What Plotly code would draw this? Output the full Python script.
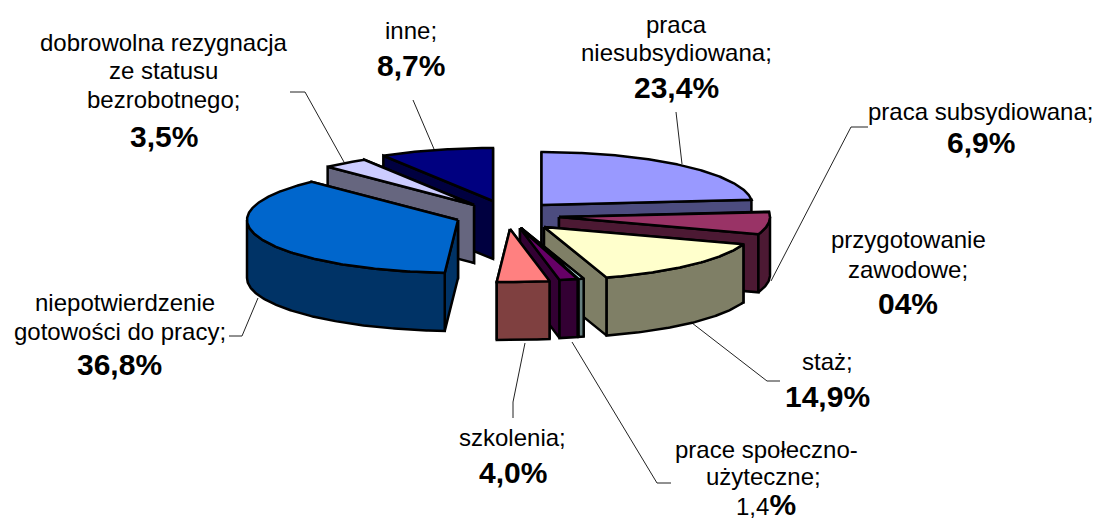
import numpy as np
import plotly.graph_objects as go

# --- data (clockwise from 12 o'clock) ---
categories = ["praca niesubsydiowana", "praca subsydiowana", "staż", "przygotowanie zawodowe",
              "prace społeczno-użyteczne", "szkolenia", "niepotwierdzenie gotowości do pracy",
              "dobrowolna rezygnacja ze statusu bezrobotnego", "inne"]
values = [23.4, 6.9, 14.9, 0.4, 1.4, 4.0, 36.8, 3.5, 8.7]
value_labels = ["23,4%", "6,9%", "14,9%", "04%", "1,4", "4,0%", "36,8%", "3,5%", "8,7%"]
label_lines = [["praca", "niesubsydiowana;"], ["praca subsydiowana;"], ["staż;"],
               ["przygotowanie", "zawodowe;"], ["prace społeczno-", "użyteczne;"], ["szkolenia;"],
               ["niepotwierdzenie", "gotowości do pracy;"],
               ["dobrowolna rezygnacja", "ze statusu", "bezrobotnego;"], ["inne;"]]

# --- styles and layout ---
top_colors = ["#9999FF", "#993366", "#FFFFCC", "#CCFFFF", "#660066", "#FF8080", "#0066CC", "#CCCCFF", "#000080"]
wall_colors = ["#4C4C7F", "#4C1933", "#7F7F66", "#667F7F", "#330033", "#7F4040", "#003366", "#66667F", "#000040"]
RX, RY, DEPTH = 211, 53, 58
slice_origin_x = [541.5, 559, 544, 521, 520, 510, 458, 474, 493]
slice_origin_y = [205, 217, 227, 228, 228, 229, 220, 205, 201]
draw_order = [0, 8, 7, 1, 6, 2, 3, 4, 5]

label_x = [[676, 676, 676], [980, 981], [827, 827], [908, 908, 908], [766, 763, 766],
           [512, 513], [125, 120, 119], [163, 163, 163, 164], [411, 411]]
label_y = [[24, 52, 87], [111, 142], [361, 396], [239, 269, 303], [449, 476, 504],
           [437, 472], [302, 331, 364], [42, 70, 99, 136], [30, 65]]
leader_x = [[676, 682], [868, 851, 771], [780, 767, 692], [], [671, 657, 572], [513, 513, 525],
            [229, 242, 258], [290, 305, 344], [413, 434]]
leader_y = [[112, 164], [127, 127, 281], [381, 381, 323], [], [483, 483, 342], [418, 402, 343],
            [336, 336, 298], [92, 92, 162], [100, 149]]
FONT = "Liberation Sans, Arial, sans-serif"

cum = np.concatenate([[0], np.cumsum(values)]) * 3.6


def ring(cx, cy, a, b, dy=0.0):
    t = np.radians(np.linspace(a, b, max(2, int(abs(b - a) * 2) + 2)))
    return cx + RX * np.sin(t), cy - RY * np.cos(t) + dy


fig = go.Figure()


def poly(x, y, color):
    fig.add_trace(go.Scatter(x=list(x), y=list(y), mode="lines", fill="toself", fillcolor=color,
                             line=dict(color="black", width=2.5), hoverinfo="skip", showlegend=False))


for i in range(len(leader_x)):
    if leader_x[i]:
        fig.add_trace(go.Scatter(x=leader_x[i], y=leader_y[i], mode="lines",
                                 line=dict(color="#222222", width=1), hoverinfo="skip", showlegend=False))

for i in draw_order:
    a, b = cum[i], cum[i + 1]
    cx, cy = slice_origin_x[i], slice_origin_y[i]
    # the radial wall further back goes first, so the nearer one stays visible
    for ang in sorted((a, b), key=lambda t: -np.cos(np.radians(t))):
        ex, ey = ring(cx, cy, ang, ang)
        poly([cx, ex[0], ex[0], cx, cx], [cy, ey[0], ey[0] + DEPTH, cy + DEPTH, cy], wall_colors[i])
    lo, hi = max(a, 90), min(b, 270)
    if hi > lo:
        tx, ty = ring(cx, cy, lo, hi)
        bx, by = ring(cx, cy, hi, lo, DEPTH)
        poly(np.r_[tx, bx, tx[0]], np.r_[ty, by, ty[0]], wall_colors[i])
    ax, ay = ring(cx, cy, a, b)
    poly(np.r_[cx, ax, cx], np.r_[cy, ay, cy], top_colors[i])

annotations = []
for i, lines in enumerate(label_lines):
    for j, line in enumerate(lines):
        annotations.append(dict(x=label_x[i][j], y=label_y[i][j], text=line, showarrow=False,
                                xanchor="center", yanchor="middle",
                                font=dict(family=FONT, size=24, color="black")))
    v = value_labels[i]
    text = f"<b>{v}</b>" if v.endswith("%") else f"{v}<b style='font-size:30px'>%</b>"
    annotations.append(dict(x=label_x[i][-1], y=label_y[i][-1], text=text, showarrow=False,
                            xanchor="center", yanchor="middle",
                            font=dict(family=FONT, size=30 if v.endswith("%") else 24, color="black")))

fig.update_layout(width=1097, height=524, margin=dict(l=0, r=0, t=0, b=0), autosize=False,
                  paper_bgcolor="white", plot_bgcolor="white", showlegend=False,
                  xaxis=dict(range=[0, 1097], visible=False, fixedrange=True),
                  yaxis=dict(range=[524, 0], visible=False, fixedrange=True),
                  annotations=annotations)
fig.write_html("out.html", config=dict(displayModeBar=False),
               post_script="document.body.style.margin='0';document.documentElement.style.overflow='hidden';")
